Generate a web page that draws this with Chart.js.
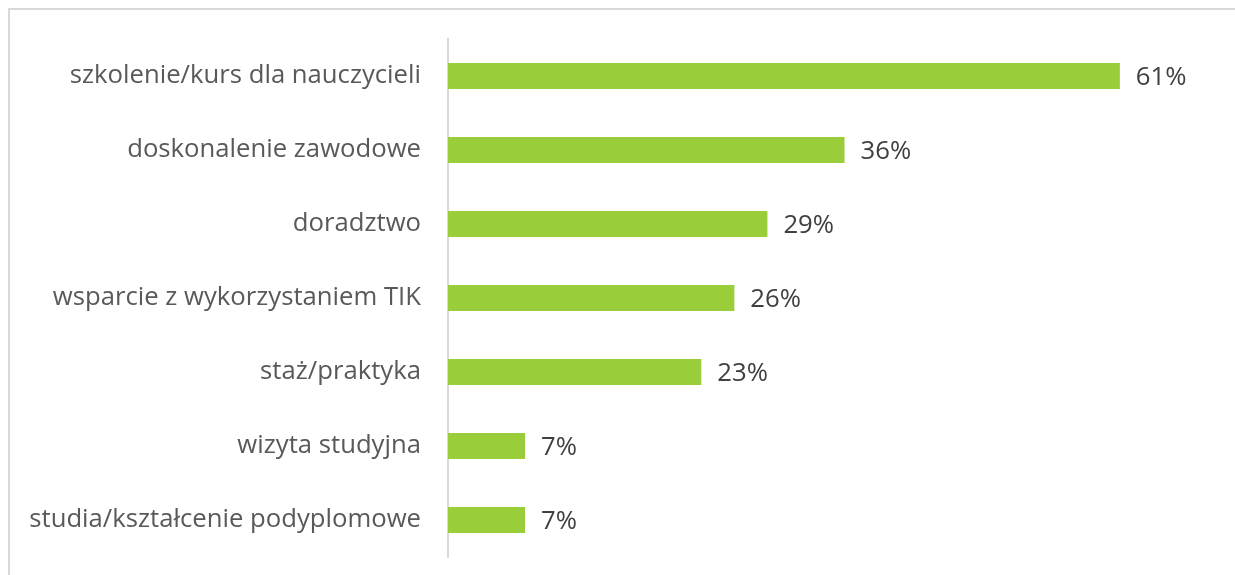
<!DOCTYPE html>
<html>
<head>
<meta charset="utf-8">
<script src="https://cdn.jsdelivr.net/npm/chart.js@4.4.1/dist/chart.umd.min.js"></script>
<style>
  html, body { margin: 0; padding: 0; background: #fff; }
  #wrap { position: relative; width: 1235px; height: 575px; overflow: hidden; }
  #frame {
    position: absolute; left: 8px; top: 8px; right: -5px; bottom: -5px;
    border-top: 2px solid #d9d9d9; border-left: 2px solid #d9d9d9;
  }
  canvas { position: absolute; left: 0; top: 0; }
</style>
</head>
<body>
<div id="wrap">
  <div id="frame"></div>
  <canvas id="chart" width="1235" height="575"></canvas>
</div>
<script>
// kategorie i wartości (%)
const kategorie = [
  'szkolenie/kurs dla nauczycieli',
  'doskonalenie zawodowe',
  'doradztwo',
  'wsparcie z wykorzystaniem TIK',
  'staż/praktyka',
  'wizyta studyjna',
  'studia/kształcenie podyplomowe',
];
const wartosci = [61, 36, 29, 26, 23, 7, 7];
const etykiety = ['61%', '36%', '29%', '26%', '23%', '7%', '7%'];

const FONT = "'Open Sans', Lato, sans-serif";
const FONT_SIZE = 25.7;

// etykiety wartości na końcu słupków
const etykietyPlugin = {
  id: 'etykiety',
  afterDatasetsDraw(chart) {
    const ctx = chart.ctx;
    const meta = chart.getDatasetMeta(0);
    ctx.save();
    ctx.font = `${FONT_SIZE}px ${FONT}`;
    ctx.fillStyle = '#404040';
    ctx.textAlign = 'left';
    ctx.textBaseline = 'middle';
    meta.data.forEach((bar, i) => {
      ctx.fillText(etykiety[i], bar.x + 16, bar.y + 2);
    });
    ctx.restore();
  },
};

new Chart(document.getElementById('chart'), {
  type: 'bar',
  data: {
    labels: kategorie,
    datasets: [{
      data: wartosci,
      backgroundColor: '#9acd3a',
      categoryPercentage: 1,
      barPercentage: 0.35,
    }],
  },
  options: {
    indexAxis: 'y',
    responsive: false,
    animation: false,
    layout: { padding: { top: 39, bottom: 18, right: 16, left: 0 } },
    plugins: {
      legend: { display: false },
      tooltip: { enabled: false },
    },
    scales: {
      x: {
        display: false,
        min: 0,
        max: 70,
      },
      y: {
        afterFit: (scale) => {
          scale.width = 448;
          // padding etykiet nie powinien zmniejszać obszaru wykresu w pionie
          scale.paddingTop = 0;
          scale.paddingBottom = 0;
        },
        grid: { display: false, drawTicks: false },
        border: { display: true, color: '#d9d9d9', width: 2 },
        ticks: {
          color: '#595959',
          padding: 27,
          font: { family: FONT, size: FONT_SIZE },
        },
      },
    },
  },
  plugins: [etykietyPlugin],
});
</script>
</body>
</html>
